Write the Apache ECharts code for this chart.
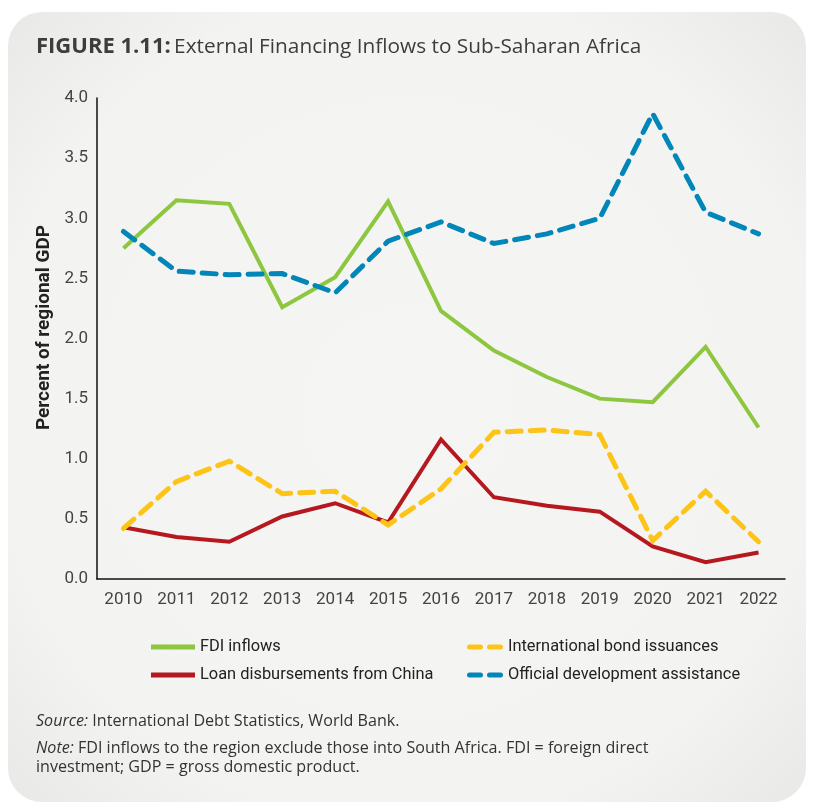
<!DOCTYPE html>
<html><head><meta charset="utf-8">
<script src="https://cdn.jsdelivr.net/npm/echarts@6/dist/echarts.min.js"></script>
<style>html,body{margin:0;padding:0;background:#fff}#c{width:814px;height:805px}</style>
</head><body><div id="c"></div>
<script>
const years = ['2010','2011','2012','2013','2014','2015','2016','2017','2018','2019','2020','2021','2022'];
const fdiInflows = [2.75,3.15,3.12,2.26,2.51,3.14,2.23,1.90,1.68,1.50,1.47,1.93,1.26];
const loanChina = [0.43,0.35,0.31,0.52,0.63,0.47,1.16,0.68,0.61,0.56,0.27,0.14,0.22];
const bondIssuances = [0.42,0.81,0.98,0.71,0.73,0.45,0.75,1.22,1.24,1.20,0.32,0.73,0.31];
const odaAssistance = [2.89,2.56,2.53,2.54,2.38,2.81,2.97,2.79,2.87,3.00,3.87,3.05,2.87];
const yTicks = ['0.0','0.5','1.0','1.5','2.0','2.5','3.0','3.5','4.0'];

const cond = "'Roboto',sans-serif";
const solidIcon = 'path://M0,0H44V5H0Z';
const dashIcon = 'path://M2.5,0H13.5A2.5,2.5,0,0,1,13.5,5H2.5A2.5,2.5,0,0,1,2.5,0ZM22.5,0H33.5A2.5,2.5,0,0,1,33.5,5H22.5A2.5,2.5,0,0,1,22.5,0Z';
const chart = echarts.init(document.getElementById('c'));
function line(name, data, color, dashed){
  return {name, type:'line', data, showSymbol:false, symbol:'none', animation:false,
    lineStyle:{color, width: dashed?5:4, type: dashed?[14,9]:'solid', cap: dashed?'round':'butt', join:'miter'},
    itemStyle:{color}};
}
const legText = {fontFamily:cond, fontSize:16.4, color:'#222', lineHeight:20};
chart.setOption({
  backgroundColor:'#ffffff',
  animation:false,
  graphic:[
    {type:'rect', z:-10, shape:{x:8,y:12,width:798,height:790,r:34},
      style:{fill:new echarts.graphic.RadialGradient(0.5,0.5,0.75,[{offset:0,color:'#f5f5f3'},{offset:0.7,color:'#f3f3f1'},{offset:1,color:'#e6e6e4'}])}},
    {type:'text', left:36, top:36, style:{rich:{b:{fontFamily:"'Open Sans',sans-serif",fontWeight:'bold',fontSize:22,fill:'#3d3d3d'},n:{fontFamily:"'Open Sans',sans-serif",fontSize:20.8,fill:'#3d3d3d'}},
      text:'{b|FIGURE 1.11:} {n|External Financing Inflows to Sub-Saharan Africa}'}},
    {type:'text', left:36, top:713, style:{rich:{i:{fontFamily:"'Open Sans',sans-serif",fontStyle:'italic',fontSize:16.1,fill:'#333'},n:{fontFamily:"'Open Sans',sans-serif",fontSize:16.1,fill:'#333'}},
      text:'{i|Source:}{n| International Debt Statistics, World Bank.}'}},
    {type:'text', left:36, top:740, style:{rich:{i:{fontFamily:"'Open Sans',sans-serif",fontStyle:'italic',fontSize:16.1,fill:'#333',lineHeight:19},n:{fontFamily:"'Open Sans',sans-serif",fontSize:16.1,fill:'#333',lineHeight:19}},
      text:'{i|Note:}{n| FDI inflows to the region exclude those into South Africa. FDI = foreign direct}\n{n|investment; GDP = gross domestic product.}'}}
  ],
  grid:{left:97, right:29, top:98, bottom:226, containLabel:false},
  legend:[
    {left:146, top:632, orient:'vertical', itemGap:8, itemWidth:44, itemHeight:5,
      textStyle:legText,
      data:[{name:'FDI inflows', icon:solidIcon},{name:'Loan disbursements from China', icon:solidIcon}]},
    {left:462, top:632, orient:'vertical', itemGap:8, itemWidth:36, itemHeight:5,
      textStyle:legText,
      data:[{name:'International bond issuances', icon:dashIcon},{name:'Official development assistance', icon:dashIcon}]}
  ],
  xAxis:{type:'category', data:years, boundaryGap:true,
    axisLine:{lineStyle:{color:'#111', width:1.5}}, axisTick:{show:false},
    axisLabel:{interval:0, fontFamily:cond, fontSize:17, color:'#444', margin:12}},
  yAxis:{type:'value', min:0, max:4, interval:0.5,
    name:'Percent of regional GDP', nameLocation:'middle', nameGap:42, nameRotate:90,
    nameTextStyle:{fontFamily:cond, fontWeight:'bold', fontSize:19, color:'#222', padding:[0,0,0,22]},
    axisLine:{show:true, lineStyle:{color:'#111', width:1.5}}, axisTick:{show:false}, splitLine:{show:false},
    axisLabel:{fontFamily:cond, fontSize:17, color:'#444', margin:9, formatter:(v)=>yTicks[Math.round(v*2)]}},
  series:[
    line('FDI inflows', fdiInflows, '#8dc63f', false),
    line('Loan disbursements from China', loanChina, '#b5191f', false),
    line('International bond issuances', bondIssuances, '#fdc418', true),
    line('Official development assistance', odaAssistance, '#0086b8', true)
  ]
});
</script></body></html>
